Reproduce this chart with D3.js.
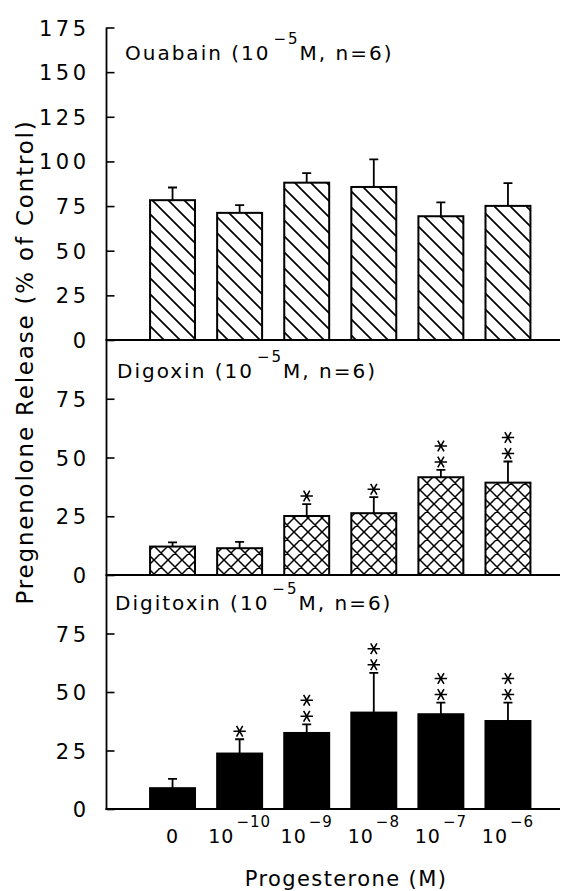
<!DOCTYPE html>
<html>
<head>
<meta charset="utf-8">
<script src="https://cdn.jsdelivr.net/npm/d3@7"></script>
<style>
  body { margin: 0; background: #fff; }
  svg { display: block; }
</style>
</head>
<body>
<div id="chart"></div>
<script>
// data
const categories = ["0", "1e-10", "1e-9", "1e-8", "1e-7", "1e-6"];
const xTickBase = ["0", "10", "10", "10", "10", "10"];
const xTickExp = ["", "\u221210", "\u22129", "\u22128", "\u22127", "\u22126"];

const ouabainMean = [78.3, 71.2, 88.1, 85.7, 69.3, 75.1];
const ouabainErr = [7.1, 4.3, 5.4, 15.5, 7.8, 12.8];
const ouabainStars = [0, 0, 0, 0, 0, 0];

const digoxinMean = [12.1, 11.4, 25.1, 26.3, 41.6, 39.3];
const digoxinErr = [1.8, 2.7, 5.1, 6.8, 3.1, 9.0];
const digoxinStars = [0, 0, 1, 1, 2, 2];

const digitoxinMean = [8.9, 23.7, 32.5, 41.2, 40.5, 37.6];
const digitoxinErr = [4.0, 6.1, 3.7, 17.0, 5.0, 7.9];
const digitoxinStars = [0, 1, 2, 2, 2, 2];

const topTicks = [0, 25, 50, 75, 100, 125, 150, 175];
const lowerTicks = [0, 25, 50, 75];

const width = 566, height = 891;
const axisX = 106.5, axisRight = 560;
const font = "DejaVu Sans";

const svg = d3.select("#chart").append("svg")
  .attr("width", width)
  .attr("height", height);

// fill patterns
const defs = svg.append("defs");
let hatch = defs.append("pattern")
  .attr("id", "hatch")
  .attr("patternUnits", "userSpaceOnUse")
  .attr("width", 16).attr("height", 16);
hatch.append("rect").attr("width", 16).attr("height", 16).attr("fill", "#fff");
hatch.append("path")
  .attr("d", "M-4,-4L20,20M-4,12L4,20M12,-4L20,4")
  .attr("stroke", "#000").attr("stroke-width", 1.7);

let cross = defs.append("pattern")
  .attr("id", "cross")
  .attr("patternUnits", "userSpaceOnUse")
  .attr("width", 14).attr("height", 14);
cross.append("rect").attr("width", 14).attr("height", 14).attr("fill", "#fff");
cross.append("path")
  .attr("d", "M-3,-3L17,17M-3,11L3,17M11,-3L17,3M17,-3L-3,17M3,-3L-3,3M17,11L11,17")
  .attr("stroke", "#000").attr("stroke-width", 1.5);

const xScale = d3.scaleBand()
  .domain(categories)
  .range([139, 541.5])
  .paddingInner(0.33)
  .paddingOuter(0.165);

const panels = [
  {title: "Ouabain", mean: ouabainMean, err: ouabainErr, stars: ouabainStars,
   fill: "url(#hatch)", domain: [0, 175], range: [340, 27.5], ticks: topTicks, tx: 125, ty: 60},
  {title: "Digoxin", mean: digoxinMean, err: digoxinErr, stars: digoxinStars,
   fill: "url(#cross)", domain: [0, 100], range: [575, 340], ticks: lowerTicks, tx: 117, ty: 378},
  {title: "Digitoxin", mean: digitoxinMean, err: digitoxinErr, stars: digitoxinStars,
   fill: "#000", domain: [0, 100], range: [809, 575], ticks: lowerTicks, tx: 115, ty: 610}
];

// star: horizontal bar plus two diagonals
function starPath(cx, cy) {
  let r = 6.2, dx = r * 0.5, dy = r * 0.866;
  return "M" + (cx - r) + "," + cy + "L" + (cx + r) + "," + cy +
    "M" + (cx - dx) + "," + (cy - dy) + "L" + (cx + dx) + "," + (cy + dy) +
    "M" + (cx + dx) + "," + (cy - dy) + "L" + (cx - dx) + "," + (cy + dy);
}

panels.forEach(function(p) {
  let yScale = d3.scaleLinear().domain(p.domain).range(p.range);
  let g = svg.append("g");
  let rows = categories.map(function(c, i) {
    return {cat: c, mean: p.mean[i], err: p.err[i], stars: p.stars[i]};
  });

  // error bars (up only)
  g.selectAll(".err").data(rows).enter().append("path")
    .attr("d", function(d) {
      let cx = xScale(d.cat) + xScale.bandwidth() / 2;
      let top = yScale(d.mean + d.err);
      return "M" + cx + "," + yScale(d.mean) + "L" + cx + "," + top +
        "M" + (cx - 4.5) + "," + top + "L" + (cx + 4.5) + "," + top;
    })
    .attr("fill", "none").attr("stroke", "#000").attr("stroke-width", 1.8);

  g.selectAll(".bar").data(rows).enter().append("rect")
    .attr("x", function(d) { return xScale(d.cat); })
    .attr("y", function(d) { return yScale(d.mean); })
    .attr("width", xScale.bandwidth())
    .attr("height", function(d) { return yScale(0) - yScale(d.mean); })
    .attr("fill", p.fill)
    .attr("stroke", "#000").attr("stroke-width", 2);

  // significance stars
  rows.forEach(function(d) {
    let cx = xScale(d.cat) + xScale.bandwidth() / 2;
    let top = yScale(d.mean + d.err);
    for (let k = 0; k < d.stars; k++) {
      g.append("path")
        .attr("d", starPath(cx, top - 8 - 16 * k))
        .attr("stroke", "#000").attr("stroke-width", 1.6).attr("fill", "none");
    }
  });

  // y axis ticks pointing inward
  let ax = g.append("g")
    .attr("transform", "translate(" + axisX + ",0)")
    .call(d3.axisLeft(yScale).tickValues(p.ticks).tickSizeInner(-8).tickSizeOuter(0).tickPadding(17));
  ax.select(".domain").remove();
  ax.selectAll("line").attr("stroke-width", 1.6);
  ax.selectAll("text")
    .attr("font-family", font).attr("font-size", 21)
    .attr("letter-spacing", 3.5)
    .attr("dy", "0.36em")
    .attr("fill", "#000");

  // zero line of the panel
  g.append("line")
    .attr("x1", axisX - 1).attr("x2", axisRight)
    .attr("y1", yScale(0)).attr("y2", yScale(0))
    .attr("stroke", "#000").attr("stroke-width", 2);

  // panel title
  let t = g.append("text")
    .attr("x", p.tx).attr("y", p.ty)
    .attr("font-family", font).attr("font-size", 20)
    .attr("letter-spacing", 2);
  t.append("tspan").text(p.title + " (10");
  t.append("tspan").attr("dy", -16).attr("font-size", 15).attr("dx", 3).text("\u22125");
  t.append("tspan").attr("dy", 16).text("M, n=6)");
});

// vertical axis line through all panels
svg.append("line")
  .attr("x1", axisX).attr("x2", axisX)
  .attr("y1", 27.5).attr("y2", 810)
  .attr("stroke", "#000").attr("stroke-width", 1.8);

// x tick labels
let xl = svg.append("g").selectAll("text")
  .data(categories).enter().append("text")
  .attr("x", function(d) { return xScale(d) + xScale.bandwidth() / 2; })
  .attr("y", 843)
  .attr("text-anchor", "middle")
  .attr("font-family", font).attr("font-size", 19)
  .attr("letter-spacing", 1);
xl.append("tspan").text(function(d, i) { return xTickBase[i]; });
xl.append("tspan")
  .attr("dy", -16).attr("dx", 2).attr("font-size", 15)
  .text(function(d, i) { return xTickExp[i]; });

// axis titles
svg.append("text")
  .attr("transform", "translate(33,362) rotate(-90)")
  .attr("text-anchor", "middle")
  .attr("font-family", font).attr("font-size", 23)
  .attr("letter-spacing", 1.8)
  .text("Pregnenolone Release (% of Control)");

svg.append("text")
  .attr("x", 346).attr("y", 886)
  .attr("text-anchor", "middle")
  .attr("font-family", font).attr("font-size", 21)
  .attr("letter-spacing", 1.4)
  .text("Progesterone (M)");
</script>
</body>
</html>
